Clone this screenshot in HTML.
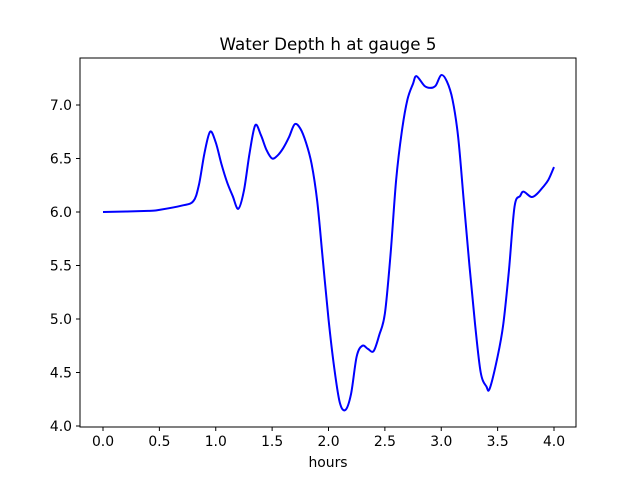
<!DOCTYPE html>
<html><head><meta charset="utf-8"><style>
body{margin:0;background:#fff}
svg{display:block;font-family:"DejaVu Sans","Liberation Sans",sans-serif}
</style></head><body>
<svg id="chart" width="640" height="480" viewBox="0 0 640 480">
<rect width="640" height="480" fill="#fff"/>
<text x="328" y="50" text-anchor="middle" font-size="16.7">Water Depth h at gauge 5</text>
<g id="xticks"></g>
<g id="yticks"></g>
<path id="line" fill="none" stroke="#0000ff" stroke-width="2"/>
<rect x="80" y="58" width="496" height="369" fill="none" stroke="#000" stroke-width="1"/>
<text x="328" y="467" text-anchor="middle" font-size="13.9">hours</text>
</svg>
<script>
const hours=[0,0.4,0.5,0.7,0.8,0.85,0.9,0.95,1.0,1.05,1.1,1.15,1.2,1.25,1.3,1.35,1.4,1.45,1.5,1.55,1.6,1.65,1.7,1.75,1.8,1.85,1.9,1.95,2.0,2.05,2.1,2.15,2.2,2.25,2.3,2.35,2.4,2.45,2.5,2.55,2.6,2.65,2.7,2.75,2.78,2.85,2.9,2.95,3.0,3.05,3.1,3.15,3.2,3.25,3.3,3.35,3.4,3.43,3.5,3.55,3.6,3.65,3.7,3.73,3.8,3.85,3.9,3.95,4.0];
const depth=[6.0,6.01,6.02,6.06,6.1,6.25,6.55,6.75,6.65,6.45,6.28,6.15,6.03,6.2,6.55,6.81,6.72,6.58,6.5,6.53,6.6,6.7,6.82,6.78,6.65,6.45,6.1,5.55,5.0,4.55,4.22,4.15,4.3,4.65,4.75,4.72,4.7,4.85,5.05,5.6,6.3,6.75,7.05,7.2,7.27,7.18,7.16,7.18,7.28,7.22,7.05,6.7,6.1,5.5,4.95,4.5,4.37,4.35,4.65,4.95,5.45,6.05,6.15,6.19,6.14,6.17,6.23,6.3,6.42];
const xTickLabels=["0.0","0.5","1.0","1.5","2.0","2.5","3.0","3.5","4.0"];
const yTickLabels=["4.0","4.5","5.0","5.5","6.0","6.5","7.0"];
const NS="http://www.w3.org/2000/svg";
const xs=v=>103+v*112.75;
const ys=v=>212-(v-6)*107;
const xg=document.getElementById('xticks'),yg=document.getElementById('yticks');
xTickLabels.forEach(l=>{const v=parseFloat(l),x=xs(v);
const t=document.createElementNS(NS,'line');t.setAttribute('x1',x);t.setAttribute('x2',x);t.setAttribute('y1',427);t.setAttribute('y2',431);t.setAttribute('stroke','#000');


xg.appendChild(t);
const tx=document.createElementNS(NS,'text');tx.setAttribute('x',x);tx.setAttribute('y',446);tx.setAttribute('text-anchor','middle');tx.setAttribute('font-size','13.9');tx.textContent=l;


xg.appendChild(tx);});
yTickLabels.forEach(l=>{const v=parseFloat(l),y=ys(v);
const t=document.createElementNS(NS,'line');t.setAttribute('x1',76);t.setAttribute('x2',80);t.setAttribute('y1',y);t.setAttribute('y2',y);t.setAttribute('stroke','#000');


yg.appendChild(t);
const tx=document.createElementNS(NS,'text');tx.setAttribute('x',72);tx.setAttribute('y',y+5);tx.setAttribute('text-anchor','end');tx.setAttribute('font-size','13.9');tx.textContent=l;


yg.appendChild(tx);});
const P=hours.map((h,i)=>[xs(h),ys(depth[i])]);
let d='M'+P[0][0]+','+P[0][1];
for(let i=0;i<P.length-1;i++){const p0=P[Math.max(0,i-1)],p1=P[i],p2=P[i+1],p3=P[Math.min(P.length-1,i+2)];
const c1=[p1[0]+(p2[0]-p0[0])/6,p1[1]+(p2[1]-p0[1])/6],c2=[p2[0]-(p3[0]-p1[0])/6,p2[1]-(p3[1]-p1[1])/6];
d+=` C${c1[0]},${c1[1]} ${c2[0]},${c2[1]} ${p2[0]},${p2[1]}`;}
document.getElementById('line').setAttribute('d',d);
</script>
</body></html>
